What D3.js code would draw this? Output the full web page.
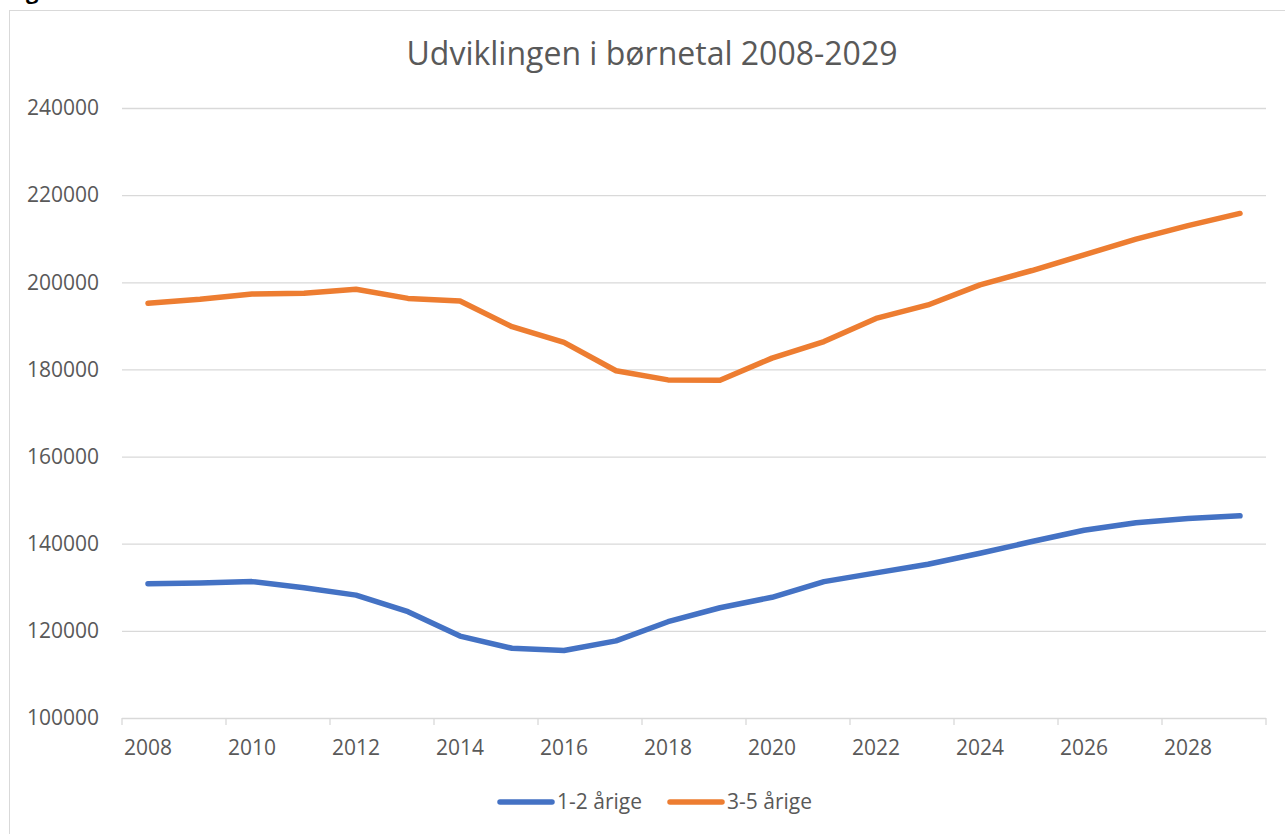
<!DOCTYPE html>
<html>
<head>
<meta charset="utf-8">
<script src="https://cdn.jsdelivr.net/npm/d3@7"></script>
<style>
    body { margin: 0; background: #fff; }
    svg { display: block; font-family: 'Open Sans', sans-serif; }
</style>
</head>
<body>
<svg id="chart" width="1285" height="834"></svg>
<script>

    // data
    var years = d3.range(2008, 2030);
    var seriesNames = ['1-2 årige', '3-5 årige'];
    var toddlers = [130800, 131000, 131300, 129900, 128200, 124400, 118800, 116000, 115500, 117700, 122100,
        125300, 127700, 131300, 133300, 135300, 137800, 140500, 143100, 144800, 145800, 146400];
    var kids = [195200, 196100, 197300, 197500, 198400, 196300, 195700, 189800, 186200, 179700, 177600,
        177500, 182600, 186400, 191700, 194800, 199400, 202700, 206300, 209900, 213000, 215800];
    var yTicks = [100000, 120000, 140000, 160000, 180000, 200000, 220000, 240000];
    var colors = ['#4472C4', '#ED7D31'];

    var svg = d3.select('#chart');
    var textColor = '#595959';
    var gridColor = '#d9d9d9';

    // chart frame (runs off the page on right / bottom)
    svg.append('rect')
        .attr('x', 9.5)
        .attr('y', 10.5)
        .attr('width', 1300)
        .attr('height', 850)
        .style('fill', 'none')
        .style('stroke', gridColor)
        .style('stroke-width', 1);

    // cut-off caption above the frame, only the descender shows
    svg.append('text')
        .attr('x', 26)
        .attr('y', -1)
        .text('g')
        .style('font-weight', 'bold')
        .style('font-size', '22px')
        .style('fill', '#000');

    var x = d3.scaleBand().domain(years).range([122, 1266]).padding(0);
    var y = d3.scaleLinear().domain([100000, 240000]).range([718, 108]);

    //gridlines + y labels
    var yAxis = svg.append('g')
        .attr('transform', 'translate(122,0)')
        .call(d3.axisLeft(y).tickValues(yTicks).tickSize(-(1266 - 122)).tickPadding(23).tickFormat(d3.format('d')));
    yAxis.select('.domain').remove();
    yAxis.selectAll('line').style('stroke', gridColor).style('stroke-width', 1.3);
    yAxis.selectAll('text')
        .style('font-family', "'Open Sans', sans-serif")
        .style('font-size', '21px')
        .style('fill', textColor);

    // x axis tick marks at category edges, every 2nd year
    var tickEdges = years.filter(function (d, i) { return i % 2 === 0; }).map(function (d) { return x(d); });
    tickEdges.push(x.range()[1]);
    svg.selectAll('.x-tick')
        .data(tickEdges)
        .enter().append('line')
        .attr('class', 'x-tick')
        .attr('x1', function (d) { return d; })
        .attr('x2', function (d) { return d; })
        .attr('y1', y(100000))
        .attr('y2', y(100000) + 7)
        .style('stroke', gridColor)
        .style('stroke-width', 1.3);

    // x labels
    var xAxis = svg.append('g')
        .attr('transform', 'translate(0,' + y(100000) + ')')
        .call(d3.axisBottom(x).tickValues(years.filter(function (d, i) { return i % 2 === 0; })).tickSize(0).tickPadding(22));
    xAxis.select('.domain').remove();
    xAxis.selectAll('text')
        .style('font-family', "'Open Sans', sans-serif")
        .style('font-size', '21px')
        .style('fill', textColor);

    //lines
    var line = d3.line()
        .x(function (d, i) { return x(years[i]) + x.bandwidth() / 2; })
        .y(function (d) { return y(d); });

    [toddlers, kids].forEach(function (values, i) {
        svg.append('path')
            .datum(values)
            .attr('d', line)
            .style('fill', 'none')
            .style('stroke', colors[i])
            .style('stroke-width', 5.5)
            .style('stroke-linecap', 'round')
            .style('stroke-linejoin', 'round');
    });

    //title
    svg.append('text')
        .attr('x', 652)
        .attr('y', 65)
        .attr('text-anchor', 'middle')
        .text('Udviklingen i børnetal 2008-2029')
        .style('font-size', '32px')
        .style('fill', textColor);

    //legend
    var legendX = [498, 668];
    seriesNames.forEach(function (name, i) {
        svg.append('line')
            .attr('x1', legendX[i] + 2)
            .attr('x2', legendX[i] + 54)
            .attr('y1', 802)
            .attr('y2', 802)
            .style('stroke', colors[i])
            .style('stroke-width', 5.5)
            .style('stroke-linecap', 'round');
        svg.append('text')
            .attr('x', legendX[i] + 59)
            .attr('y', 809)
            .text(name)
            .style('font-size', '21px')
            .style('fill', textColor);
    });
</script>
</body>
</html>
